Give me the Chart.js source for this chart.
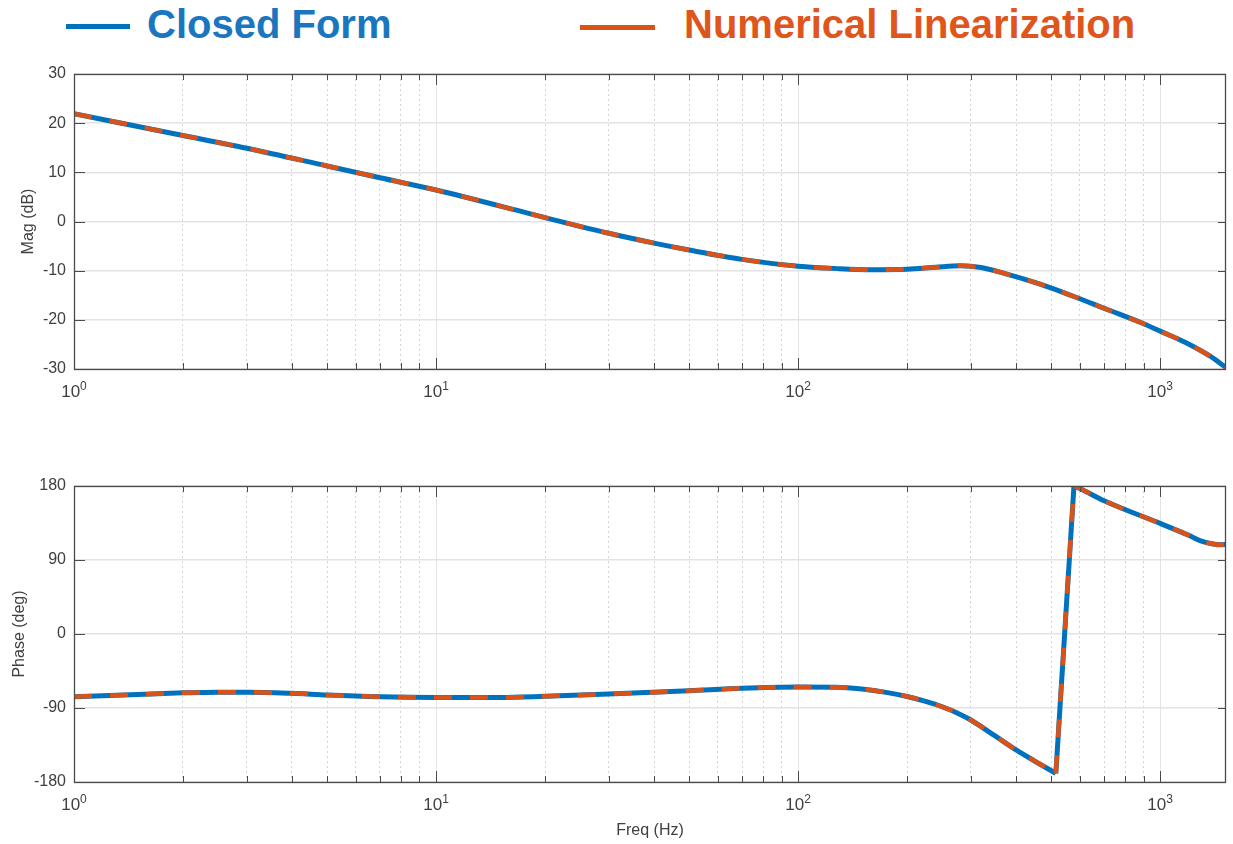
<!DOCTYPE html>
<html>
<head>
<meta charset="utf-8">
<script src="https://cdn.jsdelivr.net/npm/chart.js@4/dist/chart.umd.min.js"></script>
<style>
  html, body { margin: 0; padding: 0; background: #fff; }
  #wrap { position: relative; width: 1233px; height: 844px; background: #fff; overflow: hidden; }
  .swatch { position: absolute; height: 5px; }
  .legtext { position: absolute; font: bold 40px 'Liberation Sans', Arial, sans-serif; line-height: normal; white-space: nowrap; }
  canvas { position: absolute; left: 0; display: block; }
</style>
</head>
<body>
<div id="wrap">
  <div class="swatch" style="left:66px;top:24px;width:64px;background:#0072BD"></div>
  <div class="legtext" style="left:147px;top:2px;color:#1a77bf">Closed Form</div>
  <div class="swatch" style="left:580px;top:25px;width:75px;background:#D95319"></div>
  <div class="legtext" style="left:684px;top:2px;color:#df561c">Numerical Linearization</div>
  <canvas id="magChart" width="1233" height="420" style="top:0"></canvas>
  <canvas id="phaseChart" width="1233" height="424" style="top:420px"></canvas>
</div>
<script>
// magnitude
const magFreq = [1, 2, 3, 5, 7, 10, 20, 30, 40, 50, 70, 100, 130, 160, 200, 240, 280, 320, 373, 464, 575, 714, 887, 1000, 1175, 1368, 1520];
const magDb   = [21.9, 17.5, 14.9, 11.3, 8.9, 6.4, 0.8, -2.4, -4.4, -5.8, -7.7, -9.1, -9.6, -9.8, -9.7, -9.3, -9.0, -9.35, -10.6, -12.7, -15.2, -17.9, -20.6, -22.3, -24.6, -27.3, -29.7];

// phase
const phaseFreq = [1, 1.5, 2, 2.5, 3, 4, 5, 7, 10, 15, 20, 30, 50, 70, 100, 127, 150, 175, 200, 225, 250, 275, 300, 350, 400, 450, 515, 578, 600, 700, 1000, 1200, 1300, 1400, 1460, 1520];
const phaseDeg  = [-76.3, -73.5, -71.6, -70.8, -70.8, -72.2, -74.2, -76.3, -77.2, -77.3, -75.8, -73, -69, -66, -64.5, -64.7, -67, -71, -76, -82, -88.5, -96, -104.6, -124, -141, -154.5, -169.5, 180, 177, 162, 134.5, 120, 113, 109.5, 108.5, 109];

const freqMin = 1, freqMax = 1520;
const magTicks = [-30, -20, -10, 0, 10, 20, 30];
const phaseTicks = [-180, -90, 0, 90, 180];

const BLUE = '#0072BD';
const ORANGE = '#D95319';
const TXT = '#404040';
const FONT = "'Liberation Sans', Arial, 'DejaVu Sans', sans-serif";

function isDecade(v) {
  const l = Math.log10(v);
  return Math.abs(l - Math.round(l)) < 1e-9;
}

// inward tick marks, full box and 10^n labels, matlab style
const boxTicks = {
  id: 'boxTicks',
  afterDraw(chart) {
    const { ctx, chartArea: a, scales: { x, y } } = chart;
    ctx.save();
    ctx.strokeStyle = '#4a4a4a';
    ctx.lineWidth = 1;
    ctx.beginPath();
    x.ticks.forEach(t => {
      const px = Math.round(x.getPixelForValue(t.value)) + 0.5;
      const len = isDecade(t.value) ? 11 : 6;
      ctx.moveTo(px, a.bottom); ctx.lineTo(px, a.bottom - len);
      ctx.moveTo(px, a.top); ctx.lineTo(px, a.top + len);
    });
    y.ticks.forEach(t => {
      const py = Math.round(y.getPixelForValue(t.value)) + 0.5;
      ctx.moveTo(a.left, py); ctx.lineTo(a.left + 11, py);
      ctx.moveTo(a.right, py); ctx.lineTo(a.right - 8, py);
    });
    ctx.stroke();
    ctx.lineWidth = 1.3;
    ctx.strokeRect(a.left + 0.5, a.top + 0.5, a.right - a.left - 1, a.bottom - a.top);

    // decade labels with a raised exponent
    ctx.fillStyle = TXT;
    ctx.textAlign = 'left';
    ctx.textBaseline = 'alphabetic';
    const base = a.bottom + 28;
    x.ticks.forEach(t => {
      if (!isDecade(t.value)) return;
      const e = String(Math.round(Math.log10(t.value)));
      ctx.font = '17px ' + FONT;
      const w1 = ctx.measureText('10').width;
      ctx.font = '12px ' + FONT;
      const w2 = ctx.measureText(e).width;
      const left = x.getPixelForValue(t.value) - (w1 + w2) / 2;
      ctx.font = '17px ' + FONT;
      ctx.fillText('10', left, base);
      ctx.font = '12px ' + FONT;
      ctx.fillText(e, left + w1, base - 7);
    });
    ctx.restore();
  }
};

function xScale(showTitle, height) {
  return {
    type: 'logarithmic',
    min: freqMin,
    max: freqMax,
    afterBuildTicks(scale) {
      const ticks = [];
      for (let d = 0; d <= 3; d++) {
        for (let m = 1; m <= 9; m++) {
          const v = m * Math.pow(10, d);
          if (v >= freqMin && v <= freqMax) ticks.push({ value: v });
        }
      }
      scale.ticks = ticks;
    },
    afterFit(scale) { scale.height = height; },
    ticks: { display: false, autoSkip: false, maxRotation: 0 },
    grid: {
      drawTicks: false,
      color: ctx => (ctx.tick && isDecade(ctx.tick.value)) ? '#e3e3e3' : '#d4d4d4',
      lineWidth: 1
    },
    border: {
      display: false,
      dash: ctx => (ctx.tick && !isDecade(ctx.tick.value)) ? [2, 3] : []
    },
    title: {
      display: showTitle,
      text: 'Freq (Hz)',
      color: TXT,
      font: { family: FONT, size: 16 },
      padding: { top: 4, bottom: 4 }
    }
  };
}

function yScale(min, max, step, label, titlePad) {
  return {
    min: min,
    max: max,
    afterFit(scale) { scale.width = 74; },
    ticks: {
      stepSize: step,
      padding: 8,
      color: TXT,
      font: { family: FONT, size: 16 }
    },
    grid: { drawTicks: false, color: '#e3e3e3', lineWidth: 1.5 },
    border: { display: false },
    title: {
      display: true,
      text: label,
      color: TXT,
      font: { family: FONT, size: 16 },
      padding: { top: titlePad, bottom: 0 }
    }
  };
}

function styled(label, pts, color, dashed) {
  return {
    label: label,
    data: pts,
    borderColor: color,
    borderWidth: dashed ? 4.5 : 5,
    borderDash: dashed ? [18, 18] : [],
    pointRadius: 0,
    cubicInterpolationMode: 'monotone',
    order: dashed ? 1 : 2
  };
}

// split the curve where the phase wraps, so the wrap is drawn as a straight stroke
function lineSets(xs, ys) {
  const pts = xs.map((f, i) => ({ x: f, y: ys[i] }));
  const parts = [];
  let start = 0;
  for (let i = 0; i < pts.length - 1; i++) {
    if (Math.abs(pts[i + 1].y - pts[i].y) > 180) {
      parts.push(pts.slice(start, i + 1));
      parts.push([pts[i], pts[i + 1]]);
      start = i + 1;
    }
  }
  parts.push(pts.slice(start));
  const sets = [];
  parts.forEach(p => {
    sets.push(styled('Closed Form', p, BLUE, false));
    sets.push(styled('Numerical Linearization', p, ORANGE, true));
  });
  return sets;
}

const common = {
  responsive: false,
  animation: false,
  events: [],
  plugins: { legend: { display: false }, tooltip: { enabled: false } }
};

new Chart(document.getElementById('magChart'), {
  type: 'line',
  data: { datasets: lineSets(magFreq, magDb) },
  options: {
    ...common,
    layout: { padding: { top: 74, right: 7, left: 0, bottom: 0 } },
    scales: {
      x: xScale(false, 420 - 369),
      y: yScale(magTicks[0], magTicks[magTicks.length - 1], 10, 'Mag (dB)', 19)
    }
  },
  plugins: [boxTicks]
});

new Chart(document.getElementById('phaseChart'), {
  type: 'line',
  data: { datasets: lineSets(phaseFreq, phaseDeg) },
  options: {
    ...common,
    layout: { padding: { top: 66, right: 7, left: 0, bottom: 0 } },
    scales: {
      x: xScale(true, 844 - 782),
      y: yScale(phaseTicks[0], phaseTicks[phaseTicks.length - 1], 90, 'Phase (deg)', 10)
    }
  },
  plugins: [boxTicks]
});
</script>
</body>
</html>
